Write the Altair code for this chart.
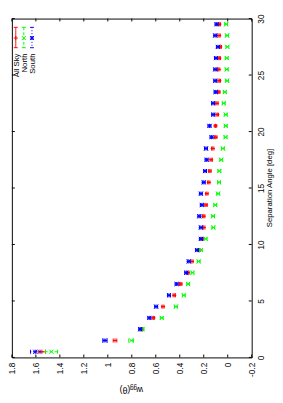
import altair as alt
import pandas as pd

# ---------------- data ----------------
theta = [0.5, 1.5, 2.5, 3.5, 4.5, 5.5, 6.5, 7.5, 8.5, 9.5,
         10.5, 11.5, 12.5, 13.5, 14.5, 15.5, 16.5, 17.5, 18.5, 19.5,
         20.5, 21.5, 22.5, 23.5, 24.5, 25.5, 26.5, 27.5, 28.5, 29.5]

all_sky = [1.55, 0.94, 0.72, 0.62, 0.54, 0.446, 0.392, 0.332, 0.298, 0.24,
           0.213, 0.2, 0.2, 0.181, 0.174, 0.158, 0.149, 0.138, 0.125, 0.1,
           0.102, 0.087, 0.09, 0.075, 0.07, 0.075, 0.07, 0.062, 0.072, 0.07]
north = [1.47, 0.805, 0.712, 0.55, 0.432, 0.366, 0.33, 0.294, 0.242, 0.224,
         0.184, 0.12, 0.122, 0.104, 0.08, 0.072, 0.07, 0.054, 0.04, 0.018,
         0.016, 0.016, 0.033, 0.024, 0.005, 0.008, 0.008, 0.003, 0.005, 0.013]
south = [1.605, 1.024, 0.73, 0.654, 0.597, 0.49, 0.426, 0.346, 0.325, 0.256,
         0.224, 0.224, 0.237, 0.216, 0.224, 0.2, 0.189, 0.176, 0.181, 0.135,
         0.152, 0.121, 0.122, 0.101, 0.104, 0.104, 0.098, 0.082, 0.104, 0.093]

err_all = [0.03, 0.015, 0.012, 0.01, 0.01, 0.01, 0.01, 0.01, 0.01, 0.01,
           0.01, 0.01, 0.01, 0.01, 0.01, 0.01, 0.01, 0.01, 0.01, 0.01,
           0.01, 0.01, 0.01, 0.01, 0.01, 0.01, 0.01, 0.01, 0.01, 0.01]
err_north = [0.05, 0.02, 0.014, 0.012, 0.012, 0.012, 0.012, 0.012, 0.012, 0.012,
             0.012, 0.012, 0.012, 0.012, 0.012, 0.012, 0.012, 0.012, 0.012, 0.012,
             0.012, 0.012, 0.012, 0.012, 0.012, 0.012, 0.012, 0.012, 0.012, 0.012]
err_south = [0.04, 0.018, 0.012, 0.012, 0.012, 0.012, 0.012, 0.012, 0.012, 0.012,
             0.012, 0.012, 0.012, 0.012, 0.012, 0.012, 0.012, 0.012, 0.012, 0.012,
             0.012, 0.012, 0.012, 0.012, 0.012, 0.012, 0.012, 0.012, 0.012, 0.012]

w_ticks = [1.8, 1.6, 1.4, 1.2, 1, 0.8, 0.6, 0.4, 0.2, 0, -0.2]
theta_ticks = [0, 5, 10, 15, 20, 25, 30]

series_names = ["All Sky", "North", "South"]
colors = ["#ff0000", "#00ff00", "#0000ff"]
dashes = [[1, 0], [3, 2], [1, 2]]
shapes = ["M-1,0L1,0M0,-1L0,1",
          "M-1,-1L1,1M-1,1L1,-1",
          "M-1,0L1,0M0,-1L0,1M-1,-1L1,1M-1,1L1,-1"]

# ---------------- layout ----------------
W, H = 247, 349
FONT = "Liberation Sans"

xscale = alt.Scale(domain=[-0.2, 1.8], reverse=True, nice=False, zero=False)
yscale = alt.Scale(domain=[0, 30], nice=False, zero=False)

xaxis = alt.Axis(values=w_ticks, labelExpr="datum.value + ''", labelAngle=270,
                 labelAlign="right", labelBaseline="middle", domain=False,
                 ticks=False, grid=False, title=None, labelPadding=5,
                 labelFlush=False, labelOverlap=False)
yaxis = alt.Axis(values=theta_ticks, orient="right", labelAngle=270,
                 labelAlign="center", labelBaseline="top", domain=False,
                 ticks=False, grid=False, title=None, labelPadding=5,
                 labelFlush=False, labelOverlap=False)


def X(field):
    return alt.X(field, type="quantitative", scale=xscale, axis=xaxis)


def Y(field):
    return alt.Y(field, type="quantitative", scale=yscale, axis=yaxis)


layers = []

# inward ticks on all four borders
wt = alt.Chart(pd.DataFrame({"w": w_ticks}))
layers.append(wt.mark_rule(color="black", strokeWidth=1).encode(
    x=X("w"), y=alt.value(H), y2=alt.value(H - 3)))
layers.append(wt.mark_rule(color="black", strokeWidth=1).encode(
    x=X("w"), y=alt.value(0), y2=alt.value(3)))
tt = alt.Chart(pd.DataFrame({"t": theta_ticks}))
layers.append(tt.mark_rule(color="black", strokeWidth=1).encode(
    y=Y("t"), x=alt.value(0), x2=alt.value(3)))
layers.append(tt.mark_rule(color="black", strokeWidth=1).encode(
    y=Y("t"), x=alt.value(W), x2=alt.value(W - 3)))

# data series
for name, vals, errs, col, dash, shp in zip(
        series_names, [all_sky, north, south], [err_all, err_north, err_south],
        colors, dashes, shapes):
    df = pd.DataFrame({"theta": theta, "w": vals,
                       "lo": [v - e for v, e in zip(vals, errs)],
                       "hi": [v + e for v, e in zip(vals, errs)]})
    base = alt.Chart(df)
    layers.append(base.mark_rule(color=col, strokeWidth=1, strokeDash=dash).encode(
        x=X("lo"), x2="hi", y=Y("theta")))
    for f in ["lo", "hi"]:
        layers.append(base.mark_tick(color=col, orient="vertical", size=4,
                                     thickness=1, opacity=1).encode(
            x=X(f), y=Y("theta")))
    layers.append(base.mark_point(shape=shp, filled=False, color=col,
                                  strokeWidth=1, size=18, opacity=1).encode(
        x=X("w"), y=Y("theta")))

# legend (top-left, rotated)
leg_x = [4, 12.3, 20.7]
for name, col, dash, shp, lx in zip(series_names, colors, dashes, shapes, leg_x):
    lb = alt.Chart(pd.DataFrame({"label": [name]}))
    layers.append(lb.mark_rule(color=col, strokeWidth=1, strokeDash=dash).encode(
        x=alt.value(lx), y=alt.value(9), y2=alt.value(30)))
    for cy in [9, 30]:
        layers.append(lb.mark_rule(color=col, strokeWidth=1).encode(
            x=alt.value(lx - 2), x2=alt.value(lx + 2), y=alt.value(cy)))
    layers.append(lb.mark_point(shape=shp, filled=False, color=col,
                                strokeWidth=1, size=18, opacity=1).encode(
        x=alt.value(lx), y=alt.value(20)))
    layers.append(lb.mark_text(angle=270, align="right", baseline="middle",
                               font=FONT, fontSize=8, color="black").encode(
        x=alt.value(lx + 1.5), y=alt.value(36), text="label:N"))

# axis titles
tdf = alt.Chart(pd.DataFrame({"a": [0]}))
layers.append(tdf.mark_text(text="Separation Angle [deg]", angle=270, align="center",
                            baseline="middle", font=FONT, fontSize=8,
                            color="black").encode(
    x=alt.value(W + 18.5), y=alt.value(H / 2)))
layers.append(tdf.mark_text(text="(θ)", angle=180, align="center", baseline="middle",
                            font=FONT, fontSize=9, color="black").encode(
    x=alt.value(116.5), y=alt.value(H + 33.5)))
layers.append(tdf.mark_text(text="gg", angle=180, align="center", baseline="middle",
                            font=FONT, fontSize=6.5, color="black").encode(
    x=alt.value(125.3), y=alt.value(H + 31)))
layers.append(tdf.mark_text(text="w", angle=180, align="center", baseline="middle",
                            font=FONT, fontSize=9, color="black").encode(
    x=alt.value(131.8), y=alt.value(H + 33.5)))

chart = alt.layer(*layers).properties(
    width=W, height=H,
    autosize=alt.AutoSizeParams(type="none"),
    padding={"left": 4, "top": 5, "right": 24, "bottom": 40},
).configure_view(stroke="black", strokeWidth=1).configure_axis(
    labelFont=FONT, labelFontSize=8.5, labelColor="black"
)

chart.save("out.html", embed_options={"renderer": "svg", "actions": False})
